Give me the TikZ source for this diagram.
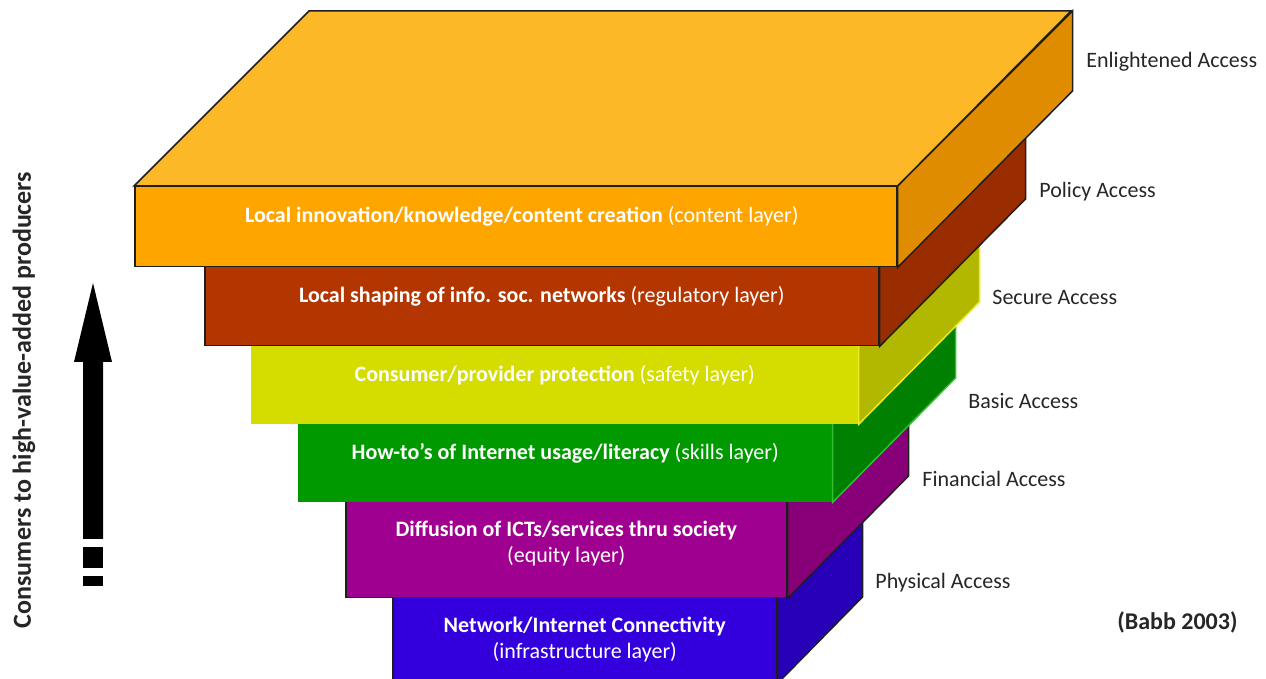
\documentclass[tikz,border=0pt]{standalone}
\usepackage{fontspec}
\setmainfont{Carlito}
\usetikzlibrary{positioning}
\definecolor{edge}{HTML}{1E1E1E}
\definecolor{ink}{HTML}{262626}
\definecolor{orTop}{HTML}{FDB827}
\definecolor{orFront}{HTML}{FFA500}
\definecolor{orSide}{HTML}{E08C00}
\definecolor{rdFront}{HTML}{B33600}
\definecolor{rdSide}{HTML}{9A2D00}
\definecolor{ylFront}{HTML}{D4DC00}
\definecolor{ylSide}{HTML}{B2B800}
\definecolor{ylEdge}{HTML}{E8EC20}
\definecolor{gnFront}{HTML}{009900}
\definecolor{gnSide}{HTML}{008000}
\definecolor{gnEdge}{HTML}{30C030}
\definecolor{puFront}{HTML}{A0008F}
\definecolor{puSide}{HTML}{870077}
\definecolor{blFront}{HTML}{3300DD}
\definecolor{blSide}{HTML}{2800B8}
\begin{document}
\begin{tikzpicture}[x=0.5pt,y=-0.5pt,
    face/.style={draw=edge,line width=0.75pt,inner sep=0pt,anchor=north west},
    txt/.style={text=white,inner sep=0pt,align=center,font=\fontsize{11}{13}\selectfont},
    access/.style={text=ink,anchor=west,inner sep=0pt,font=\fontsize{11}{13}\selectfont}]
\useasboundingbox (0,0) rectangle (1266,679);
\clip (0,0) rectangle (1266,679);
% infrastructure layer
\node[face,fill=blFront,minimum width=192pt,minimum height=42.5pt] (bl) at (392,597) {};
\draw[face,fill=blSide] (bl.north east) -- ++(85,-85) -- ++(0,85) -- (bl.south east) -- cycle;
\node[txt,below=10pt of bl.north] {\textbf{Network/Internet Connectivity}\\(infrastructure layer)};
% equity layer
\node[face,fill=puFront,minimum width=220.5pt,minimum height=48pt] (pu) at (345,501) {};
\draw[face,fill=puSide] (pu.north east) -- ++(121,-121) -- ++(0,96) -- (pu.south east) -- cycle;
\node[txt,below=10pt of pu.north] {\textbf{Diffusion of ICTs/services thru society}\\(equity layer)};
% skills layer
\node[face,draw=gnFront,fill=gnFront,minimum width=266.5pt,minimum height=39pt] (gn) at (298,423) {};
\draw[face,draw=gnEdge,fill=gnSide] (gn.north east) -- ++(123,-123) -- ++(0,78) -- (gn.south east) -- cycle;
\node[txt,below=10pt of gn.north] {\textbf{How-to’s of Internet usage/literacy} (skills layer)};
% safety layer
\node[face,draw=ylFront,fill=ylFront,minimum width=303pt,minimum height=39pt] (yl) at (251,345) {};
\draw[face,draw=ylEdge,fill=ylSide] (yl.north east) -- ++(121,-121) -- ++(0,78) -- (yl.south east) -- cycle;
\node[txt,below=10pt of yl.north] {\textbf{Consumer/provider protection} (safety layer)};
% regulatory layer
\node[face,fill=rdFront,minimum width=337pt,minimum height=39.5pt] (rd) at (204,266) {};
\draw[face,fill=rdSide] (rd.north east) -- ++(146,-146) -- ++(0,79) -- (rd.south east) -- cycle;
\node[txt,below=10pt of rd.north] {\textbf{Local shaping of info. soc. networks} (regulatory layer)};
% content layer
\node[face,fill=orFront,minimum width=381pt,minimum height=40pt] (or) at (134,186) {};
\draw[face,fill=orSide] (or.north east) -- ++(175,-175) -- ++(0,80) -- (or.south east) -- cycle;
\draw[face,fill=orTop] (or.north west) -- ++(175,-175) -- ++(762,0) -- (or.north east) -- cycle;
\node[txt,below=10pt of or.north,xshift=3pt] {\textbf{Local innovation/knowledge/content creation} (content layer)};
% access levels
\node[access] (a1) at (1086,62) {Enlightened Access};
\node[access] (a2) at (1039,192) {Policy Access};
\node[access] (a3) at (992,297) {Secure Access};
\node[access] (a4) at (968,401) {Basic Access};
\node[access] (a5) at (922,479) {Financial Access};
\node[access] (a6) at (875,583) {Physical Access};
\node[access,font=\fontsize{12}{14}\selectfont\bfseries] (src) at (1117,622) {(Babb 2003)};
% left axis
\node[rotate=90,text=ink,font=\fontsize{13}{15}\selectfont\bfseries] (axis) at (24,400) {Consumers to high-value-added producers};
\coordinate (tip) at (93,283);
\fill (tip) -- (112,362) -- (103,362) -- (103,539) -- (83,539) -- (83,362) -- (74,362) -- cycle;
\fill (83,547) rectangle (103,568);
\fill (83,576) rectangle (103,586);
\end{tikzpicture}
\end{document}
